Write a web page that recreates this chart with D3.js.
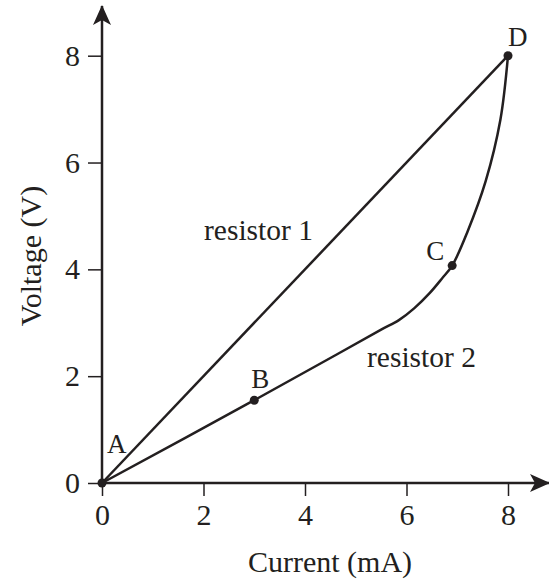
<!DOCTYPE html>
<html>
<head>
<meta charset="utf-8">
<script src="https://cdn.jsdelivr.net/npm/d3@7"></script>
<style>
  body { margin: 0; background: #fff; }
  text { font-family: "Liberation Serif", "Times New Roman", serif; fill: #231f20; }
</style>
</head>
<body>
<svg id="chart" width="549" height="585"></svg>
<script>
// data
const xTicks = [0, 2, 4, 6, 8];
const yTicks = [0, 2, 4, 6, 8];
const resistor1 = [[0, 0], [8, 8]];
const resistor2 = [[0, 0], [3, 1.55], [4.5, 2.34], [5.5, 2.87], [5.85, 3.05], [6.15, 3.27],
                   [6.46, 3.56], [6.7, 3.83], [6.9, 4.07], [7.2, 4.7], [7.56, 5.65],
                   [7.85, 6.8], [8, 8]];
const points = [
  { name: "A", x: 0, y: 0 },
  { name: "B", x: 3, y: 1.55 },
  { name: "C", x: 6.9, y: 4.07 },
  { name: "D", x: 8, y: 8 }
];

const ink = "#231f20";
let svg = d3.select("#chart");

let x = d3.scaleLinear().domain([0, 8]).range([102, 508]);
let y = d3.scaleLinear().domain([0, 8]).range([483, 55.7]);

// arrowhead
svg.append("defs").append("marker")
    .attr("id", "arrow")
    .attr("viewBox", "0 0 20 18")
    .attr("refX", 19).attr("refY", 9)
    .attr("markerWidth", 20).attr("markerHeight", 18)
    .attr("markerUnits", "userSpaceOnUse")
    .attr("orient", "auto")
    .append("path")
    .attr("d", "M0,0 L20,9 L0,18 L5,9 Z")
    .attr("fill", ink);

// axes lines
svg.append("line")
    .attr("x1", x(0)).attr("y1", y(0)).attr("x2", 549).attr("y2", y(0))
    .attr("stroke", ink).attr("stroke-width", 2.5)
    .attr("marker-end", "url(#arrow)");
svg.append("line")
    .attr("x1", x(0)).attr("y1", y(0)).attr("x2", x(0)).attr("y2", 6)
    .attr("stroke", ink).attr("stroke-width", 2.5)
    .attr("marker-end", "url(#arrow)");

// X axis ticks
let xAxis = svg.append("g")
    .attr("transform", "translate(0," + y(0) + ")")
    .call(d3.axisBottom(x).tickValues(xTicks).tickSize(13).tickPadding(8).tickFormat(d3.format("d")));
xAxis.select(".domain").remove();
xAxis.selectAll("line").attr("stroke", ink).attr("stroke-width", 1.5);
xAxis.selectAll("text").attr("font-size", "30px").attr("font-family", "Liberation Serif").attr("fill", ink);

// Y axis ticks
let yAxis = svg.append("g")
    .attr("transform", "translate(" + x(0) + ",0)")
    .call(d3.axisLeft(y).tickValues(yTicks).tickSize(14).tickPadding(8).tickFormat(d3.format("d")));
yAxis.select(".domain").remove();
yAxis.selectAll("line").attr("stroke", ink).attr("stroke-width", 1.5);
yAxis.selectAll("text").attr("font-size", "30px").attr("font-family", "Liberation Serif").attr("fill", ink);

// curves
let line = d3.line().x(d => x(d[0])).y(d => y(d[1]));
svg.append("path")
    .attr("d", line(resistor1))
    .attr("fill", "none").attr("stroke", ink).attr("stroke-width", 2.5);
svg.append("path")
    .attr("d", line.curve(d3.curveCatmullRom.alpha(0.5))(resistor2))
    .attr("fill", "none").attr("stroke", ink).attr("stroke-width", 2.5);

// dots
svg.selectAll("circle.pt")
    .data(points)
    .enter()
    .append("circle")
    .attr("class", "pt")
    .attr("cx", d => x(d.x))
    .attr("cy", d => y(d.y))
    .attr("r", 4.5)
    .attr("fill", ink);

// point labels
const labelOffset = { A: [5, -30], B: [-3, -12], C: [-26, -6], D: [0, -10] };
svg.selectAll("text.pt")
    .data(points)
    .enter()
    .append("text")
    .attr("class", "pt")
    .attr("x", d => x(d.x) + labelOffset[d.name][0])
    .attr("y", d => y(d.y) + labelOffset[d.name][1])
    .attr("font-size", "27px")
    .text(d => d.name);

svg.append("text").attr("x", 204).attr("y", 240).attr("font-size", "29.5px").text("resistor 1");
svg.append("text").attr("x", 367).attr("y", 367).attr("font-size", "29.5px").text("resistor 2");

// axis titles
svg.append("text")
    .attr("x", 330).attr("y", 572)
    .attr("text-anchor", "middle")
    .attr("font-size", "30px")
    .text("Current (mA)");
svg.append("text")
    .attr("transform", "translate(41,256) rotate(-90)")
    .attr("text-anchor", "middle")
    .attr("font-size", "30px")
    .text("Voltage (V)");
</script>
</body>
</html>
